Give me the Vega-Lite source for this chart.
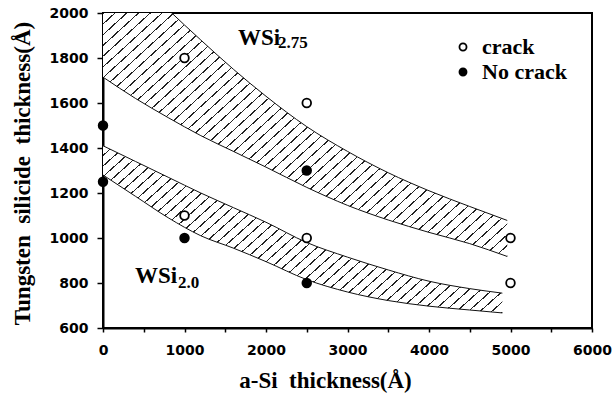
{
"$schema":"https://vega.github.io/schema/vega-lite/v6.json",
"width":489,"height":315,"autosize":"none",
"padding":{"left":103,"top":13,"right":20,"bottom":68},
"background":"white",
"config":{"view":{"stroke":"black","strokeWidth":2},
"axis":{"domainColor":"black","domainWidth":2,"tickColor":"black","tickWidth":1.5,"grid":false,"labelColor":"black","titleColor":"black","labelFlush":false,"labelOverlap":false,"labelBound":false}},
"datasets":{
"bands":[
{"band":"u","x":0,"hi":2330,"lo":1715},
{"band":"u","x":400,"hi":2160,"lo":1620},
{"band":"u","x":800,"hi":2015,"lo":1535},
{"band":"u","x":1200,"hi":1880,"lo":1455},
{"band":"u","x":1600,"hi":1750,"lo":1385},
{"band":"u","x":2000,"hi":1630,"lo":1315},
{"band":"u","x":2500,"hi":1495,"lo":1225},
{"band":"u","x":3000,"hi":1385,"lo":1145},
{"band":"u","x":3500,"hi":1290,"lo":1080},
{"band":"u","x":4000,"hi":1210,"lo":1025},
{"band":"u","x":4500,"hi":1140,"lo":975},
{"band":"u","x":4960,"hi":1078,"lo":918},
{"band":"l","x":0,"hi":1410,"lo":1280},
{"band":"l","x":400,"hi":1340,"lo":1185},
{"band":"l","x":800,"hi":1270,"lo":1090},
{"band":"l","x":1200,"hi":1200,"lo":1010},
{"band":"l","x":1600,"hi":1135,"lo":955},
{"band":"l","x":2000,"hi":1070,"lo":895},
{"band":"l","x":2500,"hi":980,"lo":815},
{"band":"l","x":3000,"hi":915,"lo":760},
{"band":"l","x":3500,"hi":858,"lo":722},
{"band":"l","x":4000,"hi":808,"lo":697},
{"band":"l","x":4500,"hi":775,"lo":680},
{"band":"l","x":4900,"hi":755,"lo":667}
],
"pts":[
{"x":1000,"y":1800,"type":"crack"},
{"x":2500,"y":1600,"type":"crack"},
{"x":1000,"y":1100,"type":"crack"},
{"x":2500,"y":1000,"type":"crack"},
{"x":5000,"y":1000,"type":"crack"},
{"x":5000,"y":800,"type":"crack"},
{"x":0,"y":1500,"type":"No crack"},
{"x":0,"y":1250,"type":"No crack"},
{"x":1000,"y":1000,"type":"No crack"},
{"x":2500,"y":1300,"type":"No crack"},
{"x":2500,"y":800,"type":"No crack"}
],
"labels":[
{"x":1656,"y":1858,"label":"WSi","kind":"main"},
{"x":2147,"y":1843,"label":"2.75","kind":"sub"},
{"x":393,"y":800,"label":"WSi","kind":"main"},
{"x":920,"y":778,"label":"2.0","kind":"sub"}
]},
"layer":[
{"data":{"name":"bands"},"transform":[{"filter":"datum.band==='u'"}],
"mark":{"type":"area","clip":true,"interpolate":"monotone","opacity":1,
"fill":{"gradient":"linear","x1":0,"y1":0,"x2":1.07,"y2":0.92,"stops":[
{"offset":0.013525,"color":"#fff"},{"offset":0.013525,"color":"#222"},{"offset":0.015625,"color":"#222"},{"offset":0.015625,"color":"#fff"},
{"offset":0.02915,"color":"#fff"},{"offset":0.02915,"color":"#222"},{"offset":0.03125,"color":"#222"},{"offset":0.03125,"color":"#fff"},
{"offset":0.044775,"color":"#fff"},{"offset":0.044775,"color":"#222"},{"offset":0.046875,"color":"#222"},{"offset":0.046875,"color":"#fff"},
{"offset":0.0604,"color":"#fff"},{"offset":0.0604,"color":"#222"},{"offset":0.0625,"color":"#222"},{"offset":0.0625,"color":"#fff"},
{"offset":0.076025,"color":"#fff"},{"offset":0.076025,"color":"#222"},{"offset":0.078125,"color":"#222"},{"offset":0.078125,"color":"#fff"},
{"offset":0.09165,"color":"#fff"},{"offset":0.09165,"color":"#222"},{"offset":0.09375,"color":"#222"},{"offset":0.09375,"color":"#fff"},
{"offset":0.107275,"color":"#fff"},{"offset":0.107275,"color":"#222"},{"offset":0.109375,"color":"#222"},{"offset":0.109375,"color":"#fff"},
{"offset":0.1229,"color":"#fff"},{"offset":0.1229,"color":"#222"},{"offset":0.125,"color":"#222"},{"offset":0.125,"color":"#fff"},
{"offset":0.138525,"color":"#fff"},{"offset":0.138525,"color":"#222"},{"offset":0.140625,"color":"#222"},{"offset":0.140625,"color":"#fff"},
{"offset":0.15415,"color":"#fff"},{"offset":0.15415,"color":"#222"},{"offset":0.15625,"color":"#222"},{"offset":0.15625,"color":"#fff"},
{"offset":0.169775,"color":"#fff"},{"offset":0.169775,"color":"#222"},{"offset":0.171875,"color":"#222"},{"offset":0.171875,"color":"#fff"},
{"offset":0.1854,"color":"#fff"},{"offset":0.1854,"color":"#222"},{"offset":0.1875,"color":"#222"},{"offset":0.1875,"color":"#fff"},
{"offset":0.201025,"color":"#fff"},{"offset":0.201025,"color":"#222"},{"offset":0.203125,"color":"#222"},{"offset":0.203125,"color":"#fff"},
{"offset":0.21665,"color":"#fff"},{"offset":0.21665,"color":"#222"},{"offset":0.21875,"color":"#222"},{"offset":0.21875,"color":"#fff"},
{"offset":0.232275,"color":"#fff"},{"offset":0.232275,"color":"#222"},{"offset":0.234375,"color":"#222"},{"offset":0.234375,"color":"#fff"},
{"offset":0.2479,"color":"#fff"},{"offset":0.2479,"color":"#222"},{"offset":0.25,"color":"#222"},{"offset":0.25,"color":"#fff"},
{"offset":0.263525,"color":"#fff"},{"offset":0.263525,"color":"#222"},{"offset":0.265625,"color":"#222"},{"offset":0.265625,"color":"#fff"},
{"offset":0.27915,"color":"#fff"},{"offset":0.27915,"color":"#222"},{"offset":0.28125,"color":"#222"},{"offset":0.28125,"color":"#fff"},
{"offset":0.294775,"color":"#fff"},{"offset":0.294775,"color":"#222"},{"offset":0.296875,"color":"#222"},{"offset":0.296875,"color":"#fff"},
{"offset":0.3104,"color":"#fff"},{"offset":0.3104,"color":"#222"},{"offset":0.3125,"color":"#222"},{"offset":0.3125,"color":"#fff"},
{"offset":0.326025,"color":"#fff"},{"offset":0.326025,"color":"#222"},{"offset":0.328125,"color":"#222"},{"offset":0.328125,"color":"#fff"},
{"offset":0.34165,"color":"#fff"},{"offset":0.34165,"color":"#222"},{"offset":0.34375,"color":"#222"},{"offset":0.34375,"color":"#fff"},
{"offset":0.357275,"color":"#fff"},{"offset":0.357275,"color":"#222"},{"offset":0.359375,"color":"#222"},{"offset":0.359375,"color":"#fff"},
{"offset":0.3729,"color":"#fff"},{"offset":0.3729,"color":"#222"},{"offset":0.375,"color":"#222"},{"offset":0.375,"color":"#fff"},
{"offset":0.388525,"color":"#fff"},{"offset":0.388525,"color":"#222"},{"offset":0.390625,"color":"#222"},{"offset":0.390625,"color":"#fff"},
{"offset":0.40415,"color":"#fff"},{"offset":0.40415,"color":"#222"},{"offset":0.40625,"color":"#222"},{"offset":0.40625,"color":"#fff"},
{"offset":0.419775,"color":"#fff"},{"offset":0.419775,"color":"#222"},{"offset":0.421875,"color":"#222"},{"offset":0.421875,"color":"#fff"},
{"offset":0.4354,"color":"#fff"},{"offset":0.4354,"color":"#222"},{"offset":0.4375,"color":"#222"},{"offset":0.4375,"color":"#fff"},
{"offset":0.451025,"color":"#fff"},{"offset":0.451025,"color":"#222"},{"offset":0.453125,"color":"#222"},{"offset":0.453125,"color":"#fff"},
{"offset":0.46665,"color":"#fff"},{"offset":0.46665,"color":"#222"},{"offset":0.46875,"color":"#222"},{"offset":0.46875,"color":"#fff"},
{"offset":0.482275,"color":"#fff"},{"offset":0.482275,"color":"#222"},{"offset":0.484375,"color":"#222"},{"offset":0.484375,"color":"#fff"},
{"offset":0.4979,"color":"#fff"},{"offset":0.4979,"color":"#222"},{"offset":0.5,"color":"#222"},{"offset":0.5,"color":"#fff"},
{"offset":0.513525,"color":"#fff"},{"offset":0.513525,"color":"#222"},{"offset":0.515625,"color":"#222"},{"offset":0.515625,"color":"#fff"},
{"offset":0.52915,"color":"#fff"},{"offset":0.52915,"color":"#222"},{"offset":0.53125,"color":"#222"},{"offset":0.53125,"color":"#fff"},
{"offset":0.544775,"color":"#fff"},{"offset":0.544775,"color":"#222"},{"offset":0.546875,"color":"#222"},{"offset":0.546875,"color":"#fff"},
{"offset":0.5604,"color":"#fff"},{"offset":0.5604,"color":"#222"},{"offset":0.5625,"color":"#222"},{"offset":0.5625,"color":"#fff"},
{"offset":0.576025,"color":"#fff"},{"offset":0.576025,"color":"#222"},{"offset":0.578125,"color":"#222"},{"offset":0.578125,"color":"#fff"},
{"offset":0.59165,"color":"#fff"},{"offset":0.59165,"color":"#222"},{"offset":0.59375,"color":"#222"},{"offset":0.59375,"color":"#fff"},
{"offset":0.607275,"color":"#fff"},{"offset":0.607275,"color":"#222"},{"offset":0.609375,"color":"#222"},{"offset":0.609375,"color":"#fff"},
{"offset":0.6229,"color":"#fff"},{"offset":0.6229,"color":"#222"},{"offset":0.625,"color":"#222"},{"offset":0.625,"color":"#fff"},
{"offset":0.638525,"color":"#fff"},{"offset":0.638525,"color":"#222"},{"offset":0.640625,"color":"#222"},{"offset":0.640625,"color":"#fff"},
{"offset":0.65415,"color":"#fff"},{"offset":0.65415,"color":"#222"},{"offset":0.65625,"color":"#222"},{"offset":0.65625,"color":"#fff"},
{"offset":0.669775,"color":"#fff"},{"offset":0.669775,"color":"#222"},{"offset":0.671875,"color":"#222"},{"offset":0.671875,"color":"#fff"},
{"offset":0.6854,"color":"#fff"},{"offset":0.6854,"color":"#222"},{"offset":0.6875,"color":"#222"},{"offset":0.6875,"color":"#fff"},
{"offset":0.701025,"color":"#fff"},{"offset":0.701025,"color":"#222"},{"offset":0.703125,"color":"#222"},{"offset":0.703125,"color":"#fff"},
{"offset":0.71665,"color":"#fff"},{"offset":0.71665,"color":"#222"},{"offset":0.71875,"color":"#222"},{"offset":0.71875,"color":"#fff"},
{"offset":0.732275,"color":"#fff"},{"offset":0.732275,"color":"#222"},{"offset":0.734375,"color":"#222"},{"offset":0.734375,"color":"#fff"},
{"offset":0.7479,"color":"#fff"},{"offset":0.7479,"color":"#222"},{"offset":0.75,"color":"#222"},{"offset":0.75,"color":"#fff"},
{"offset":0.763525,"color":"#fff"},{"offset":0.763525,"color":"#222"},{"offset":0.765625,"color":"#222"},{"offset":0.765625,"color":"#fff"},
{"offset":0.77915,"color":"#fff"},{"offset":0.77915,"color":"#222"},{"offset":0.78125,"color":"#222"},{"offset":0.78125,"color":"#fff"},
{"offset":0.794775,"color":"#fff"},{"offset":0.794775,"color":"#222"},{"offset":0.796875,"color":"#222"},{"offset":0.796875,"color":"#fff"},
{"offset":0.8104,"color":"#fff"},{"offset":0.8104,"color":"#222"},{"offset":0.8125,"color":"#222"},{"offset":0.8125,"color":"#fff"},
{"offset":0.826025,"color":"#fff"},{"offset":0.826025,"color":"#222"},{"offset":0.828125,"color":"#222"},{"offset":0.828125,"color":"#fff"},
{"offset":0.84165,"color":"#fff"},{"offset":0.84165,"color":"#222"},{"offset":0.84375,"color":"#222"},{"offset":0.84375,"color":"#fff"},
{"offset":0.857275,"color":"#fff"},{"offset":0.857275,"color":"#222"},{"offset":0.859375,"color":"#222"},{"offset":0.859375,"color":"#fff"},
{"offset":0.8729,"color":"#fff"},{"offset":0.8729,"color":"#222"},{"offset":0.875,"color":"#222"},{"offset":0.875,"color":"#fff"},
{"offset":0.888525,"color":"#fff"},{"offset":0.888525,"color":"#222"},{"offset":0.890625,"color":"#222"},{"offset":0.890625,"color":"#fff"},
{"offset":0.90415,"color":"#fff"},{"offset":0.90415,"color":"#222"},{"offset":0.90625,"color":"#222"},{"offset":0.90625,"color":"#fff"},
{"offset":0.919775,"color":"#fff"},{"offset":0.919775,"color":"#222"},{"offset":0.921875,"color":"#222"},{"offset":0.921875,"color":"#fff"},
{"offset":0.9354,"color":"#fff"},{"offset":0.9354,"color":"#222"},{"offset":0.9375,"color":"#222"},{"offset":0.9375,"color":"#fff"},
{"offset":0.951025,"color":"#fff"},{"offset":0.951025,"color":"#222"},{"offset":0.953125,"color":"#222"},{"offset":0.953125,"color":"#fff"},
{"offset":0.96665,"color":"#fff"},{"offset":0.96665,"color":"#222"},{"offset":0.96875,"color":"#222"},{"offset":0.96875,"color":"#fff"},
{"offset":0.982275,"color":"#fff"},{"offset":0.982275,"color":"#222"},{"offset":0.984375,"color":"#222"},{"offset":0.984375,"color":"#fff"},
{"offset":0.9979,"color":"#fff"},{"offset":0.9979,"color":"#222"},{"offset":1,"color":"#222"}
]}},
"encoding":{
"x":{"field":"x","type":"quantitative","scale":{"domain":[0,6000],"nice":false,"zero":false},
"axis":{"values":[0,500,1000,1500,2000,2500,3000,3500,4000,4500,5000,5500,6000],"format":"d","labelExpr":"datum.value % 1000 === 0 ? datum.label : ''","tickSize":4,"labelPadding":11,"labelFont":"DejaVu Sans","labelFontWeight":"bold","labelFontSize":14,
"title":"a-Si\u00a0 thickness(Å)","titleFont":"Liberation Serif","titleFontWeight":"bold","titleFontSize":23,"titleX":222,"titleY":59,"titleAlign":"center","titleBaseline":"alphabetic"}},
"y":{"field":"hi","type":"quantitative","scale":{"domain":[600,2000],"nice":false,"zero":false},
"axis":{"values":[600,700,800,900,1000,1100,1200,1300,1400,1500,1600,1700,1800,1900,2000],"format":"d","labelExpr":"datum.value % 200 === 0 ? datum.label : ''","tickSize":{"condition":{"test":"datum.value % 200 === 0","value":6},"value":3},"labelPadding":9,"labelFont":"DejaVu Sans","labelFontWeight":"bold","labelFontSize":14,
"title":"Tungsten\u00a0 silicide\u00a0 thickness(Å)","titleFont":"Liberation Serif","titleFontWeight":"bold","titleFontSize":23,"titleX":-74,"titleY":160,"titleAlign":"center","titleBaseline":"alphabetic","titleAngle":-90}},
"y2":{"field":"lo"}}},
{"data":{"name":"bands"},"transform":[{"filter":"datum.band==='l'"}],
"mark":{"type":"area","clip":true,"interpolate":"monotone","opacity":1,
"fill":{"gradient":"linear","x1":0,"y1":0,"x2":1.205,"y2":0.561,"stops":[
{"offset":0.0172,"color":"#fff"},{"offset":0.0172,"color":"#222"},{"offset":0.02,"color":"#222"},{"offset":0.02,"color":"#fff"},
{"offset":0.0372,"color":"#fff"},{"offset":0.0372,"color":"#222"},{"offset":0.04,"color":"#222"},{"offset":0.04,"color":"#fff"},
{"offset":0.0572,"color":"#fff"},{"offset":0.0572,"color":"#222"},{"offset":0.06,"color":"#222"},{"offset":0.06,"color":"#fff"},
{"offset":0.0772,"color":"#fff"},{"offset":0.0772,"color":"#222"},{"offset":0.08,"color":"#222"},{"offset":0.08,"color":"#fff"},
{"offset":0.0972,"color":"#fff"},{"offset":0.0972,"color":"#222"},{"offset":0.1,"color":"#222"},{"offset":0.1,"color":"#fff"},
{"offset":0.1172,"color":"#fff"},{"offset":0.1172,"color":"#222"},{"offset":0.12,"color":"#222"},{"offset":0.12,"color":"#fff"},
{"offset":0.1372,"color":"#fff"},{"offset":0.1372,"color":"#222"},{"offset":0.14,"color":"#222"},{"offset":0.14,"color":"#fff"},
{"offset":0.1572,"color":"#fff"},{"offset":0.1572,"color":"#222"},{"offset":0.16,"color":"#222"},{"offset":0.16,"color":"#fff"},
{"offset":0.1772,"color":"#fff"},{"offset":0.1772,"color":"#222"},{"offset":0.18,"color":"#222"},{"offset":0.18,"color":"#fff"},
{"offset":0.1972,"color":"#fff"},{"offset":0.1972,"color":"#222"},{"offset":0.2,"color":"#222"},{"offset":0.2,"color":"#fff"},
{"offset":0.2172,"color":"#fff"},{"offset":0.2172,"color":"#222"},{"offset":0.22,"color":"#222"},{"offset":0.22,"color":"#fff"},
{"offset":0.2372,"color":"#fff"},{"offset":0.2372,"color":"#222"},{"offset":0.24,"color":"#222"},{"offset":0.24,"color":"#fff"},
{"offset":0.2572,"color":"#fff"},{"offset":0.2572,"color":"#222"},{"offset":0.26,"color":"#222"},{"offset":0.26,"color":"#fff"},
{"offset":0.2772,"color":"#fff"},{"offset":0.2772,"color":"#222"},{"offset":0.28,"color":"#222"},{"offset":0.28,"color":"#fff"},
{"offset":0.2972,"color":"#fff"},{"offset":0.2972,"color":"#222"},{"offset":0.3,"color":"#222"},{"offset":0.3,"color":"#fff"},
{"offset":0.3172,"color":"#fff"},{"offset":0.3172,"color":"#222"},{"offset":0.32,"color":"#222"},{"offset":0.32,"color":"#fff"},
{"offset":0.3372,"color":"#fff"},{"offset":0.3372,"color":"#222"},{"offset":0.34,"color":"#222"},{"offset":0.34,"color":"#fff"},
{"offset":0.3572,"color":"#fff"},{"offset":0.3572,"color":"#222"},{"offset":0.36,"color":"#222"},{"offset":0.36,"color":"#fff"},
{"offset":0.3772,"color":"#fff"},{"offset":0.3772,"color":"#222"},{"offset":0.38,"color":"#222"},{"offset":0.38,"color":"#fff"},
{"offset":0.3972,"color":"#fff"},{"offset":0.3972,"color":"#222"},{"offset":0.4,"color":"#222"},{"offset":0.4,"color":"#fff"},
{"offset":0.4172,"color":"#fff"},{"offset":0.4172,"color":"#222"},{"offset":0.42,"color":"#222"},{"offset":0.42,"color":"#fff"},
{"offset":0.4372,"color":"#fff"},{"offset":0.4372,"color":"#222"},{"offset":0.44,"color":"#222"},{"offset":0.44,"color":"#fff"},
{"offset":0.4572,"color":"#fff"},{"offset":0.4572,"color":"#222"},{"offset":0.46,"color":"#222"},{"offset":0.46,"color":"#fff"},
{"offset":0.4772,"color":"#fff"},{"offset":0.4772,"color":"#222"},{"offset":0.48,"color":"#222"},{"offset":0.48,"color":"#fff"},
{"offset":0.4972,"color":"#fff"},{"offset":0.4972,"color":"#222"},{"offset":0.5,"color":"#222"},{"offset":0.5,"color":"#fff"},
{"offset":0.5172,"color":"#fff"},{"offset":0.5172,"color":"#222"},{"offset":0.52,"color":"#222"},{"offset":0.52,"color":"#fff"},
{"offset":0.5372,"color":"#fff"},{"offset":0.5372,"color":"#222"},{"offset":0.54,"color":"#222"},{"offset":0.54,"color":"#fff"},
{"offset":0.5572,"color":"#fff"},{"offset":0.5572,"color":"#222"},{"offset":0.56,"color":"#222"},{"offset":0.56,"color":"#fff"},
{"offset":0.5772,"color":"#fff"},{"offset":0.5772,"color":"#222"},{"offset":0.58,"color":"#222"},{"offset":0.58,"color":"#fff"},
{"offset":0.5972,"color":"#fff"},{"offset":0.5972,"color":"#222"},{"offset":0.6,"color":"#222"},{"offset":0.6,"color":"#fff"},
{"offset":0.6172,"color":"#fff"},{"offset":0.6172,"color":"#222"},{"offset":0.62,"color":"#222"},{"offset":0.62,"color":"#fff"},
{"offset":0.6372,"color":"#fff"},{"offset":0.6372,"color":"#222"},{"offset":0.64,"color":"#222"},{"offset":0.64,"color":"#fff"},
{"offset":0.6572,"color":"#fff"},{"offset":0.6572,"color":"#222"},{"offset":0.66,"color":"#222"},{"offset":0.66,"color":"#fff"},
{"offset":0.6772,"color":"#fff"},{"offset":0.6772,"color":"#222"},{"offset":0.68,"color":"#222"},{"offset":0.68,"color":"#fff"},
{"offset":0.6972,"color":"#fff"},{"offset":0.6972,"color":"#222"},{"offset":0.7,"color":"#222"},{"offset":0.7,"color":"#fff"},
{"offset":0.7172,"color":"#fff"},{"offset":0.7172,"color":"#222"},{"offset":0.72,"color":"#222"},{"offset":0.72,"color":"#fff"},
{"offset":0.7372,"color":"#fff"},{"offset":0.7372,"color":"#222"},{"offset":0.74,"color":"#222"},{"offset":0.74,"color":"#fff"},
{"offset":0.7572,"color":"#fff"},{"offset":0.7572,"color":"#222"},{"offset":0.76,"color":"#222"},{"offset":0.76,"color":"#fff"},
{"offset":0.7772,"color":"#fff"},{"offset":0.7772,"color":"#222"},{"offset":0.78,"color":"#222"},{"offset":0.78,"color":"#fff"},
{"offset":0.7972,"color":"#fff"},{"offset":0.7972,"color":"#222"},{"offset":0.8,"color":"#222"},{"offset":0.8,"color":"#fff"},
{"offset":0.8172,"color":"#fff"},{"offset":0.8172,"color":"#222"},{"offset":0.82,"color":"#222"},{"offset":0.82,"color":"#fff"},
{"offset":0.8372,"color":"#fff"},{"offset":0.8372,"color":"#222"},{"offset":0.84,"color":"#222"},{"offset":0.84,"color":"#fff"},
{"offset":0.8572,"color":"#fff"},{"offset":0.8572,"color":"#222"},{"offset":0.86,"color":"#222"},{"offset":0.86,"color":"#fff"},
{"offset":0.8772,"color":"#fff"},{"offset":0.8772,"color":"#222"},{"offset":0.88,"color":"#222"},{"offset":0.88,"color":"#fff"},
{"offset":0.8972,"color":"#fff"},{"offset":0.8972,"color":"#222"},{"offset":0.9,"color":"#222"},{"offset":0.9,"color":"#fff"},
{"offset":0.9172,"color":"#fff"},{"offset":0.9172,"color":"#222"},{"offset":0.92,"color":"#222"},{"offset":0.92,"color":"#fff"},
{"offset":0.9372,"color":"#fff"},{"offset":0.9372,"color":"#222"},{"offset":0.94,"color":"#222"},{"offset":0.94,"color":"#fff"},
{"offset":0.9572,"color":"#fff"},{"offset":0.9572,"color":"#222"},{"offset":0.96,"color":"#222"},{"offset":0.96,"color":"#fff"},
{"offset":0.9772,"color":"#fff"},{"offset":0.9772,"color":"#222"},{"offset":0.98,"color":"#222"},{"offset":0.98,"color":"#fff"},
{"offset":0.9972,"color":"#fff"},{"offset":0.9972,"color":"#222"},{"offset":1,"color":"#222"}
]}},
"encoding":{"x":{"field":"x","type":"quantitative"},"y":{"field":"hi","type":"quantitative"},"y2":{"field":"lo"}}},
{"data":{"name":"bands"},"mark":{"type":"line","clip":true,"interpolate":"monotone","color":"#111","strokeWidth":1},
"encoding":{"x":{"field":"x","type":"quantitative"},"y":{"field":"hi","type":"quantitative"},"detail":{"field":"band"}}},
{"data":{"name":"bands"},"mark":{"type":"line","clip":true,"interpolate":"monotone","color":"#111","strokeWidth":1},
"encoding":{"x":{"field":"x","type":"quantitative"},"y":{"field":"lo","type":"quantitative"},"detail":{"field":"band"}}},
{"data":{"name":"pts"},"mark":{"type":"point","shape":"circle","filled":true,"size":75,"stroke":"#000","strokeWidth":1.8,"opacity":1},
"encoding":{"x":{"field":"x","type":"quantitative"},"y":{"field":"y","type":"quantitative"},
"fill":{"field":"type","type":"nominal","scale":{"domain":["crack","No crack"],"range":["#fff","#000"]},
"legend":{"orient":"none","legendX":349,"legendY":23,"title":null,"labelFont":"Liberation Serif","labelFontWeight":"bold","labelFontSize":22,"labelColor":"#000","symbolType":"circle","symbolSize":50,"symbolStrokeColor":"#000","symbolStrokeWidth":1.8,"rowPadding":3,"labelOffset":8,"padding":0}}}},
{"data":{"name":"labels"},"transform":[{"filter":"datum.kind==='main'"}],
"mark":{"type":"text","font":"Liberation Serif","fontSize":23,"fontWeight":"bold","align":"left","baseline":"alphabetic","color":"#000"},
"encoding":{"x":{"field":"x","type":"quantitative"},"y":{"field":"y","type":"quantitative"},"text":{"field":"label"}}},
{"data":{"name":"labels"},"transform":[{"filter":"datum.kind==='sub'"}],
"mark":{"type":"text","font":"Liberation Serif","fontSize":17,"fontWeight":"bold","align":"left","baseline":"alphabetic","color":"#000"},
"encoding":{"x":{"field":"x","type":"quantitative"},"y":{"field":"y","type":"quantitative"},"text":{"field":"label"}}}
]
}
